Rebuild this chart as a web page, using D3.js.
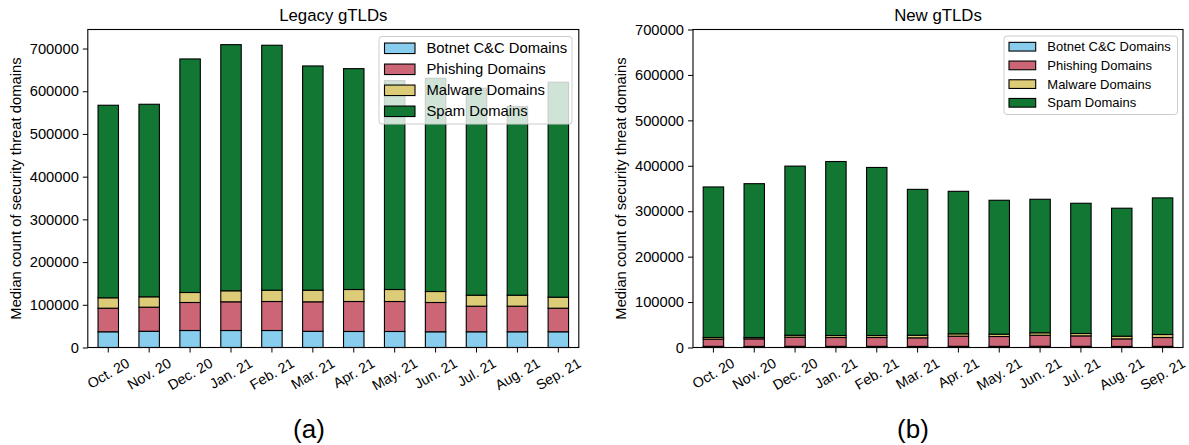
<!DOCTYPE html>
<html>
<head>
<meta charset="utf-8">
<script src="https://cdn.jsdelivr.net/npm/d3@7"></script>
<style>
  body { margin: 0; background: #fff; }
  text { font-family: "Liberation Sans", Arial, Helvetica, sans-serif; fill: #000; }
</style>
</head>
<body>
<div id="chart"></div>
<script>
var months = ["Oct. 20", "Nov. 20", "Dec. 20", "Jan. 21", "Feb. 21", "Mar. 21",
              "Apr. 21", "May. 21", "Jun. 21", "Jul. 21", "Aug. 21", "Sep. 21"];
var seriesNames = ["Botnet C&C Domains", "Phishing Domains", "Malware Domains", "Spam Domains"];
var seriesColors = ["#88CCEE", "#CC6677", "#DDCC77", "#117733"];

// (a) legacy gTLDs
var legacyBotnet   = [36800, 38000, 39800, 39800, 39800, 37900, 37500, 37500, 36800, 36800, 36800, 36800];
var legacyPhishing = [55200, 56400, 65600, 67200, 67900, 69100, 70200, 70200, 68600, 59900, 59900, 55200];
var legacyMalware  = [24400, 24300, 23400, 25800, 26500, 27200, 28100, 28100, 25700, 25800, 25800, 25800];
var legacySpam     = [450800, 450800, 546800, 576300, 573500, 525000, 517100, 489000, 499300, 484500, 441400, 503300];

// (b) new gTLDs
var newBotnet   = [2500, 2400, 2600, 2500, 2500, 2400, 2600, 2500, 2700, 2600, 2300, 2500];
var newPhishing = [15800, 16600, 20100, 19500, 19500, 18900, 22300, 21700, 24300, 23000, 16700, 19500];
var newMalware  = [3700, 3000, 4300, 4400, 4400, 5700, 5200, 5100, 5400, 5200, 5900, 6600];
var newSpam     = [331400, 338600, 372300, 383000, 369900, 321100, 313700, 294800, 293900, 286700, 281700, 300700];

var yTicks = [0, 100000, 200000, 300000, 400000, 500000, 600000, 700000];

function drawPanel(svg, p) {
	var rows = months.map(function(m, i) {
		return { month: m, b: p.series[0][i], p: p.series[1][i], m: p.series[2][i], s: p.series[3][i] };
	});
	var stack = d3.stack().keys(["b", "p", "m", "s"])(rows);

	var x = d3.scaleBand()
		.domain(months)
		.range([p.left, p.right])
		.paddingInner(0.5)
		.paddingOuter(0.25);

	var yMax = p.yMax || d3.max(rows, function(d) { return d.b + d.p + d.m + d.s; }) * 1.05;
	var y = d3.scaleLinear()
		.domain([0, yMax])
		.range([p.bottom, p.top]);

	var g = svg.append("g");

	// bars
	g.selectAll("g.layer")
		.data(stack)
		.enter()
		.append("g")
		.attr("class", "layer")
		.attr("fill", function(d, i) { return seriesColors[i]; })
		.selectAll("rect")
		.data(function(d) { return d; })
		.enter()
		.append("rect")
		.attr("x", function(d) { return x(d.data.month); })
		.attr("width", x.bandwidth())
		.attr("y", function(d) { return y(d[1]); })
		.attr("height", function(d) { return y(d[0]) - y(d[1]); })
		.attr("stroke", "#000")
		.attr("stroke-width", 1.1);

	// y axis
	var yAxis = d3.axisLeft(y)
		.tickValues(yTicks)
		.tickFormat(d3.format("d"))
		.tickSize(5)
		.tickPadding(4)
		.tickSizeOuter(0);
	var ya = g.append("g")
		.attr("transform", "translate(" + p.left + ",0)")
		.call(yAxis);
	ya.select(".domain").remove();
	ya.selectAll("text").style("font-size", "14.7px").style("font-family", null);
	ya.selectAll("line").attr("stroke", "#000");

	// x axis, labels rotated 30 degrees and centred under the tick
	var fx = 14.2;
	var xAxis = d3.axisBottom(x).tickSize(5).tickSizeOuter(0);
	var xa = g.append("g")
		.attr("transform", "translate(0," + p.bottom + ")")
		.call(xAxis);
	xa.select(".domain").remove();
	xa.selectAll("line").attr("stroke", "#000");
	xa.selectAll("text")
		.style("font-size", fx + "px")
		.style("font-family", null)
		.attr("text-anchor", "middle")
		.attr("dy", "0.35em")
		.each(function() {
			var w = this.getComputedTextLength();
			var bh = w * 0.5 + fx * 1.1 * 0.866;
			d3.select(this)
				.attr("y", null)
				.attr("transform", "translate(0," + (7.5 + bh / 2) + ") rotate(-30)");
		});

	// frame
	g.append("rect")
		.attr("x", p.left)
		.attr("y", p.top)
		.attr("width", p.right - p.left)
		.attr("height", p.bottom - p.top)
		.attr("fill", "none")
		.attr("stroke", "#000")
		.attr("stroke-width", 1.1);

	// title
	g.append("text")
		.attr("x", (p.left + p.right) / 2)
		.attr("y", p.top - 9)
		.attr("text-anchor", "middle")
		.style("font-size", "16.8px")
		.text(p.title);

	// y label
	g.append("text")
		.attr("transform", "translate(" + p.yLabelX + "," + ((p.top + p.bottom) / 2) + ") rotate(-90)")
		.attr("text-anchor", "middle")
		.attr("dy", "0.35em")
		.style("font-size", "14.8px")
		.text("Median count of security threat domains");

	// panel letter
	g.append("text")
		.attr("x", p.letterX)
		.attr("y", 438)
		.attr("text-anchor", "middle")
		.style("font-size", "26px")
		.text(p.letter);

	// legend
	var L = p.legend;
	var lg = g.append("g");
	lg.append("rect")
		.attr("x", L.x)
		.attr("y", L.y)
		.attr("width", L.w)
		.attr("height", L.h)
		.attr("rx", 3)
		.attr("fill", "#fff")
		.attr("fill-opacity", 0.8)
		.attr("stroke", "#cccccc")
		.attr("stroke-width", 1);
	var item = lg.selectAll("g.item")
		.data(seriesNames)
		.enter()
		.append("g")
		.attr("class", "item")
		.attr("transform", function(d, i) { return "translate(0," + (L.y0 + i * L.step) + ")"; });
	item.append("rect")
		.attr("x", L.px)
		.attr("y", -L.ph / 2)
		.attr("width", L.pw)
		.attr("height", L.ph)
		.attr("fill", function(d, i) { return seriesColors[i]; })
		.attr("stroke", "#000")
		.attr("stroke-width", 1.1);
	item.append("text")
		.attr("x", L.tx)
		.attr("dy", "0.35em")
		.style("font-size", L.fs + "px")
		.text(function(d) { return d; });
}

function init() {
	var svg = d3.select("#chart")
		.append("svg")
		.attr("width", 1189)
		.attr("height", 445);

	drawPanel(svg, {
		series: [legacyBotnet, legacyPhishing, legacyMalware, legacySpam],
		left: 87.8, right: 578.8, top: 29.5, bottom: 347.5,
		title: "Legacy gTLDs", yLabelX: 16, letter: "(a)", letterX: 309,
		legend: { x: 379, y: 36.5, w: 193, h: 87.5, y0: 48.3, step: 21,
		          px: 384.5, pw: 30.5, ph: 10.5, tx: 426.5, fs: 14.8 }
	});

	drawPanel(svg, {
		series: [newBotnet, newPhishing, newMalware, newSpam],
		left: 693, right: 1183, top: 29.5, bottom: 347.5, yMax: 700000,
		title: "New gTLDs", yLabelX: 621, letter: "(b)", letterX: 913,
		legend: { x: 1004, y: 36, w: 173.5, h: 78.5, y0: 46.7, step: 18.7,
		          px: 1009, pw: 26.7, ph: 8.7, tx: 1047.3, fs: 13 }
	});
}

window.onload = init;
</script>
</body>
</html>
